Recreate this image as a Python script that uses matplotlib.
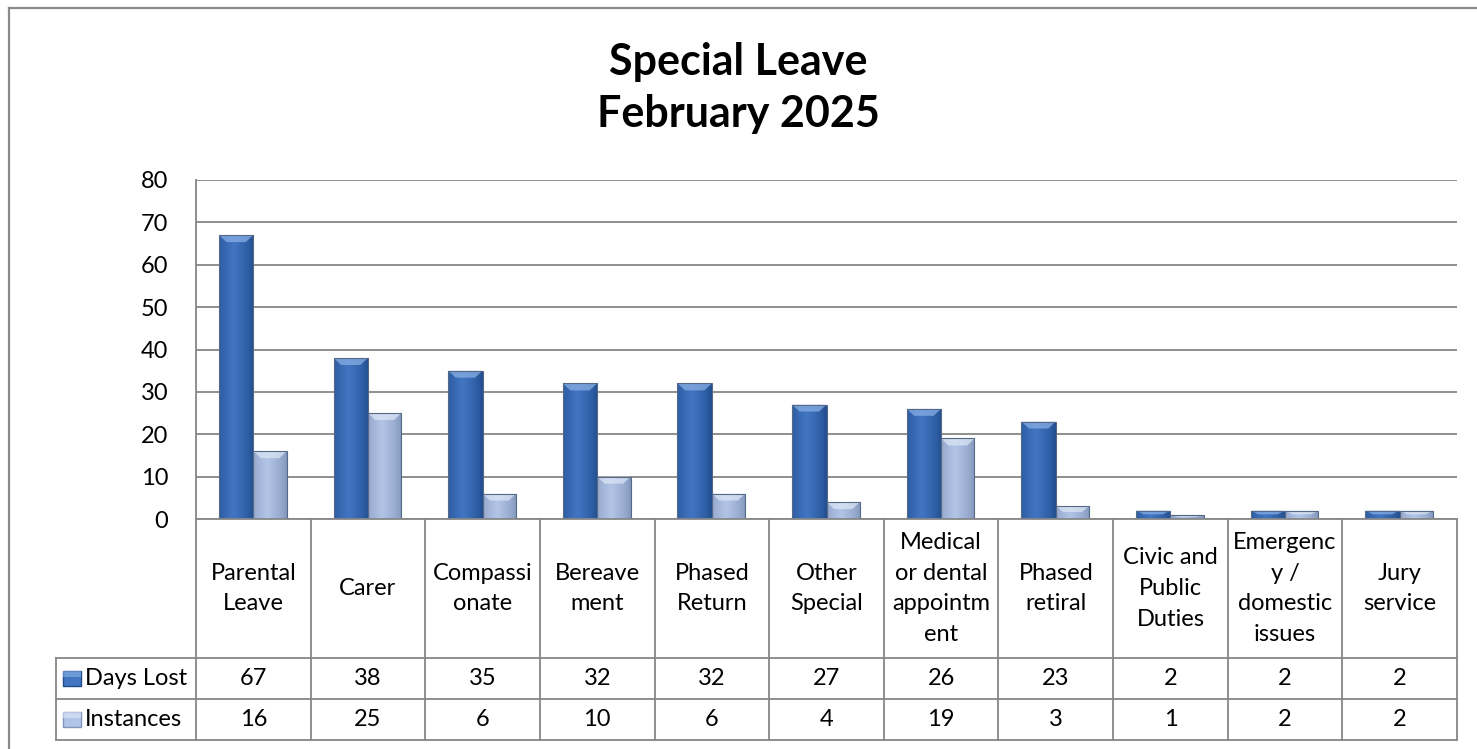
import numpy as np
import matplotlib
matplotlib.use("Agg")
import matplotlib.pyplot as plt
from matplotlib.colors import LinearSegmentedColormap
from matplotlib.lines import Line2D
from matplotlib.patches import Polygon, Rectangle
from matplotlib.transforms import blended_transform_factory

plt.rcParams["font.family"] = ["Lato", "DejaVu Sans"]

# data
categories = [
    "Parental Leave", "Carer", "Compassionate", "Bereavement", "Phased Return",
    "Other Special", "Medical or dental appointment", "Phased retiral",
    "Civic and Public Duties", "Emergency / domestic issues", "Jury service",
]
column_labels = [
    "Parental\nLeave", "Carer", "Compassi\nonate", "Bereave\nment", "Phased\nReturn",
    "Other\nSpecial", "Medical\nor dental\nappointm\nent", "Phased\nretiral",
    "Civic and\nPublic\nDuties", "Emergenc\ny /\ndomestic\nissues", "Jury\nservice",
]
days_lost = [67, 38, 35, 32, 32, 27, 26, 23, 2, 2, 2]
instances = [16, 25, 6, 10, 6, 4, 19, 3, 1, 2, 2]
series_names = ["Days Lost", "Instances"]
y_ticks = [0, 10, 20, 30, 40, 50, 60, 70, 80]

W, H = 1477, 749
GRID = "#878787"
DAYS_COLORS = ("#1f4c8c", "#4275c2", "#8db3e8")
INST_COLORS = ("#8095bb", "#b3c5e6", "#dde8f7")
TABLE_FS = 17

fig = plt.figure(figsize=(W / 100, H / 100), dpi=100)
fig.patch.set_facecolor("white")

# plot area in pixels: left 196, right 1457, top 180, bottom 519
ax = fig.add_axes([196 / W, (H - 519) / H, (1457 - 196) / W, (519 - 180) / H])
ax.set_xlim(-0.5, len(categories) - 0.5)
ax.set_ylim(0, 80)
ax.set_yticks(y_ticks)
ax.set_xticks([])
ax.tick_params(axis="y", length=0, pad=20, labelsize=TABLE_FS)
ax.yaxis.grid(True, color=GRID, linewidth=1.3)
ax.set_axisbelow(True)
for side in ("top", "right"):
    ax.spines[side].set_visible(False)
for side in ("left", "bottom"):
    ax.spines[side].set_color(GRID)
    ax.spines[side].set_linewidth(1.3)

x = np.arange(len(categories))
bw = 0.3
px_per_unit = (519 - 180) / 80


def shade(bars, colors):
    edge_c, mid_c, top_c = colors
    cmap = LinearSegmentedColormap.from_list("shade", [edge_c, mid_c])
    t = np.linspace(0, 1, 80)
    profile = np.clip(1 - np.abs(t - 0.42) / 0.58, 0, 1) ** 0.7
    for bar in bars:
        x0, w, h = bar.get_x(), bar.get_width(), bar.get_height()
        im = ax.imshow(profile[np.newaxis, :], cmap=cmap, vmin=0, vmax=1,
                       extent=[x0, x0 + w, 0, h], aspect="auto",
                       interpolation="bicubic", zorder=2.1)
        im.set_clip_path(bar)
        d = min(7 / px_per_unit, h * 0.45)
        inset = w * 0.22
        bevel = Polygon([[x0, h], [x0 + w, h], [x0 + w - inset, h - d], [x0 + inset, h - d]],
                        closed=True, facecolor=top_c, edgecolor="none", alpha=0.7, zorder=2.2)
        ax.add_patch(bevel)
        ax.add_patch(Rectangle((x0, 0), w, h, fill=False, edgecolor="#566987",
                               linewidth=0.8, zorder=2.3))


days_bars = ax.bar(x - bw, days_lost, width=bw, align="edge",
                   color=DAYS_COLORS[1], linewidth=0, zorder=2)
inst_bars = ax.bar(x, instances, width=bw * 0.97, align="edge",
                   color=INST_COLORS[1], linewidth=0, zorder=2)
shade(days_bars, DAYS_COLORS)
shade(inst_bars, INST_COLORS)
ax.set_xlim(-0.5, len(categories) - 0.5)
ax.set_ylim(0, 80)

# data table under the plot area
tr = blended_transform_factory(ax.transData, ax.transAxes)
ax_h = 519 - 180
col_px = (1457 - 196) / len(categories)
row_cat = -139 / ax_h
row_days = -180 / ax_h
row_inst = -221 / ax_h
legend_left = -0.5 - (196 - 56) / col_px
right = len(categories) - 0.5

line_kw = dict(color=GRID, linewidth=1.3, transform=tr, clip_on=False)
for yy in (row_cat, row_days, row_inst):
    ax.add_line(Line2D([legend_left, right], [yy, yy], **line_kw))
for k in range(len(categories) + 1):
    xx = -0.5 + k
    ax.add_line(Line2D([xx, xx], [0, row_inst], **line_kw))
ax.add_line(Line2D([legend_left, legend_left], [row_cat, row_inst], **line_kw))

text_kw = dict(transform=tr, ha="center", va="center", fontsize=TABLE_FS, clip_on=False)
for i, lab in enumerate(column_labels):
    ax.text(i, row_cat / 2, lab, linespacing=1.57, **text_kw)
    ax.text(i, (row_cat + row_days) / 2, str(days_lost[i]), **text_kw)
    ax.text(i, (row_days + row_inst) / 2, str(instances[i]), **text_kw)

# legend keys inside the table
key_w = 18 / col_px
key_h = 15 / ax_h
for (name, colors), (top, bot) in zip(zip(series_names, (DAYS_COLORS, INST_COLORS)),
                                      ((row_cat, row_days), (row_days, row_inst))):
    yc = (top + bot) / 2
    kx = legend_left + 7 / col_px
    ax.add_patch(Rectangle((kx, yc - key_h / 2), key_w, key_h, transform=tr,
                           facecolor=colors[1], edgecolor=colors[0], linewidth=1.0,
                           clip_on=False))
    ax.add_patch(Rectangle((kx, yc + key_h * 0.1), key_w, key_h * 0.4, transform=tr,
                           facecolor=colors[2], edgecolor="none", alpha=0.6,
                           clip_on=False))
    ax.text(kx + key_w + 4 / col_px, yc, name, transform=tr, ha="left", va="center",
            fontsize=TABLE_FS, clip_on=False)

# title
fig.text(0.5, 1 - 75 / H, "Special Leave", ha="center", va="baseline",
         fontsize=31, fontweight="bold")
fig.text(0.5, 1 - 127 / H, "February 2025", ha="center", va="baseline",
         fontsize=31, fontweight="bold")

# chart frame
fig.add_artist(Line2D([9 / W, 9 / W], [0, 1 - 8 / H], color="#8a8a8a", linewidth=1.6,
                      transform=fig.transFigure))
fig.add_artist(Line2D([9 / W, 1], [1 - 8 / H, 1 - 8 / H], color="#8a8a8a", linewidth=1.6,
                      transform=fig.transFigure))

fig.savefig("out.png", dpi=100)
